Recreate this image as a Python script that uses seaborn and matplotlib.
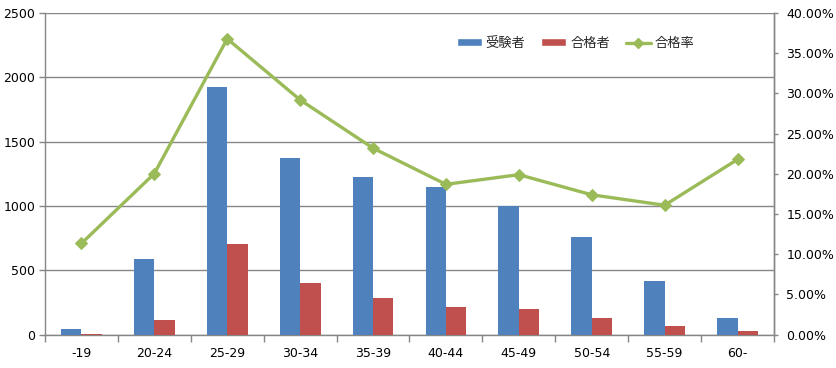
import numpy as np
import pandas as pd
import matplotlib
matplotlib.use("Agg")
import matplotlib.pyplot as plt
import matplotlib.ticker as mticker
from matplotlib.lines import Line2D
from matplotlib.patches import Patch
import seaborn as sns

# data
ages = ["-19", "20-24", "25-29", "30-34", "35-39", "40-44", "45-49", "50-54", "55-59", "60-"]
examinees = [45, 588, 1923, 1372, 1224, 1147, 1000, 759, 418, 132]
passed = [8, 114, 704, 402, 285, 217, 201, 132, 70, 31]
pass_rate = [0.1135, 0.2004, 0.368, 0.292, 0.232, 0.187, 0.199, 0.174, 0.161, 0.218]

BLUE = "#4F81BD"
RED = "#C0504D"
GREEN = "#9BBB59"
GRAY = "#868686"

sns.set_theme(style="white")
plt.rcParams["font.family"] = ["DejaVu Sans", "Noto Sans CJK JP"]

df = pd.DataFrame({
    "age": ages * 2,
    "count": examinees + passed,
    "series": ["受験者"] * len(ages) + ["合格者"] * len(ages),
})

fig = plt.figure(figsize=(8.36, 3.68), dpi=100)
ax = fig.add_axes([0.0538, 0.0905, 0.872, 0.874])

sns.barplot(data=df, x="age", y="count", hue="series", palette=[BLUE, RED],
            width=0.56, saturation=1, linewidth=0, legend=False, ax=ax, zorder=3)

ax.set_xlim(-0.5, len(ages) - 0.5)
ax.set_ylim(0, 2500)
ax.set_yticks(np.arange(0, 2501, 500))
ax.set_xlabel("")
ax.set_ylabel("")
ax.grid(axis="y", color=GRAY, linewidth=1, zorder=0)
ax.set_axisbelow(True)
ax.xaxis.set_minor_locator(mticker.FixedLocator(np.arange(-0.5, len(ages), 1)))
ax.tick_params(axis="x", which="major", length=0, pad=9, labelsize=9, colors="black")
ax.tick_params(axis="x", which="minor", length=5, width=1, color=GRAY, direction="out", bottom=True)
ax.tick_params(axis="y", length=4, width=1, color=GRAY, direction="out", pad=3,
               labelsize=9, labelcolor="black", left=True)

# pass rate on secondary axis
ax2 = ax.twinx()
sns.lineplot(x=np.arange(len(ages)), y=pass_rate, ax=ax2, color=GREEN, linewidth=2.4,
             marker="D", markersize=6, markeredgecolor=GREEN, zorder=4)
ax2.set_ylim(0, 0.40)
ax2.set_yticks(np.arange(0, 0.401, 0.05))
ax2.yaxis.set_major_formatter(mticker.FuncFormatter(lambda v, p: f"{v * 100:.2f}%"))
ax2.tick_params(axis="y", length=3, width=1, color=GRAY, direction="out", pad=6,
                labelsize=9, labelcolor="black", right=True)
ax2.grid(False)

for a in (ax, ax2):
    for name, sp in a.spines.items():
        sp.set_color(GRAY)
        sp.set_linewidth(1)
    a.spines["top"].set_visible(False)
ax2.spines["left"].set_visible(False)
ax2.spines["bottom"].set_visible(False)

handles = [
    Patch(facecolor=BLUE, label="受験者"),
    Patch(facecolor=RED, label="合格者"),
    Line2D([0], [0], color=GREEN, linewidth=2.4, marker="D", markersize=5, label="合格率"),
]
ax2.legend(handles=handles, loc="center", bbox_to_anchor=(0.728, 0.905), ncol=3,
           frameon=False, fontsize=9.5, handlelength=1.9, handleheight=0.55,
           columnspacing=1.2, handletextpad=0.3)

fig.savefig("out.png", dpi=100)
